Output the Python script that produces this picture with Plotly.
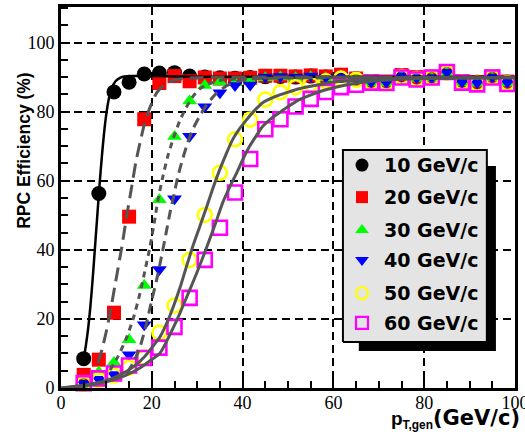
import plotly.graph_objects as go

# Generated transverse momentum bin centres (GeV/c)
pt_gen = [5, 8.33, 11.67, 15, 18.33, 21.67, 25, 28.33, 31.67, 35, 38.33, 41.67,
          45, 48.33, 51.67, 55, 58.33, 61.67, 65, 68.33, 71.67, 75, 78.33,
          81.67, 85, 88.33, 91.67, 95, 98.33]

# RPC trigger efficiency (%) for each pT threshold
eff_10 = [8.5, 56.3, 85.7, 88.5, 90.9, 91.2, 91.3, 90.3, 90.0, 89.8, 89.7, 89.9,
          90.1, 90.2, 90.0, 90.3, 90.0, 90.5, 89.5, 88.7, 88.6, 90.5, 89.9,
          90.0, 91.5, 88.7, 88.5, 90.1, 88.6]
eff_20 = [3.8, 8.2, 21.8, 49.6, 77.8, 88.3, 90.3, 88.8, 89.9, 89.6, 89.6, 89.8,
          90.4, 90.4, 90.2, 90.5, 90.2, 90.7, 89.6, 88.8, 88.7, 90.6, 90.0,
          90.1, 91.6, 88.8, 88.6, 90.2, 88.7]
eff_30 = [1.0, 4.6, 7.4, 14.0, 29.7, 54.5, 72.8, 83.1, 87.6, 88.6, 88.4, 88.9,
          89.8, 90.0, 89.8, 90.1, 89.8, 90.3, 89.2, 88.4, 88.3, 90.2, 89.6,
          89.7, 91.2, 88.4, 88.2, 89.8, 88.3]
eff_40 = [1.4, 2.5, 3.9, 9.6, 18.3, 34.3, 54.8, 72.9, 81.4, 85.5, 87.6, 87.7,
          90.0, 90.2, 90.0, 90.3, 90.0, 90.5, 89.4, 88.6, 88.5, 90.4, 89.8,
          89.9, 91.4, 88.6, 88.4, 90.0, 88.5]
eff_50 = [1.2, 2.2, 3.6, 5.9, 8.8, 16.0, 23.9, 37.1, 50.1, 62.3, 72.0, 77.7,
          83.5, 85.6, 87.1, 87.9, 88.8, 89.6, 89.2, 88.5, 88.4, 90.1, 89.5,
          89.8, 91.3, 88.5, 88.1, 89.9, 88.3]
eff_60 = [1.4, 2.8, 4.2, 6.5, 8.7, 11.7, 17.7, 26.1, 37.1, 46.4, 56.6, 66.3,
          74.9, 77.8, 81.5, 83.7, 85.7, 87.1, 87.8, 88.4, 88.3, 89.9, 89.3,
          89.9, 91.5, 88.4, 87.9, 89.9, 88.0]

# Turn-on fit curves (pT, efficiency)
fit_pt_10 = [5, 5.5, 6, 6.5, 7, 7.5, 8, 8.5, 9, 9.5, 10, 10.5, 11, 12, 13, 14, 16, 20, 30, 100]
fit_eff_10 = [8.4, 12.5, 17.5, 24, 32, 41, 50, 59, 67, 74, 79.5, 83.5, 86.3, 88.8, 89.8, 90.2, 90.3, 90.3, 90.1, 90.0]

fit_pt_20 = [8.1, 9, 10, 10.8, 12, 13.4, 14.5, 15.6, 16.5, 17.4, 18.3, 19.1, 20, 21.1, 22.5, 24, 26, 29, 35, 100]
fit_eff_20 = [7.2, 11, 16.5, 21.7, 30.5, 40.9, 50, 58.5, 65.5, 71, 76, 79.5, 82.5, 85.5, 87.5, 88.7, 89.4, 89.8, 90.0, 89.9]

fit_pt_30 = [10.8, 12.5, 14.5, 16, 17.4, 18.5, 19.6, 20.5, 21.3, 22.4, 23.5, 24.8, 26.2, 27.5, 29, 30.5, 32.1, 35, 40, 100]
fit_eff_30 = [5.2, 9, 14.8, 20.5, 27.5, 34, 40.9, 47.5, 54, 61, 67, 72.5, 77.5, 81, 84.3, 86.5, 87.8, 89.0, 89.6, 89.8]

fit_pt_40 = [14.5, 16, 17.4, 18.7, 20, 21.1, 22.2, 23.1, 24, 24.9, 25.7, 26.8, 27.9, 29, 30.5, 32, 34, 36.5, 39, 42, 50, 100]
fit_eff_40 = [4.3, 7.5, 11.9, 18, 25.5, 31.5, 38.5, 44.5, 50.7, 56, 61, 66.3, 71, 74.8, 78.6, 81.8, 85, 87.5, 88.8, 89.5, 89.8, 89.8]

fit_pt_50 = [0, 5, 10, 13, 16, 18.5, 20.5, 21.8, 24, 26.2, 27.6, 29, 30.5, 32.1, 33.5, 34.9, 36.3,
             37.8, 39.3, 40.9, 42.6, 44.4, 47, 49.7, 52, 54.7, 58, 61, 65.7, 72, 80, 100]
fit_eff_50 = [0, 0.8, 2.2, 3.8, 6.2, 9.2, 12.5, 14.8, 21, 29, 35, 40.9, 46.5, 52.5, 58, 63, 67.5,
              71.9, 75, 77.7, 80.3, 82.6, 84.3, 85.5, 86.5, 87.3, 88.1, 88.7, 89.2, 89.6, 89.8, 89.9]

fit_pt_60 = [0, 5, 10, 14, 17, 19.5, 21.8, 24, 26.2, 28, 29.9, 31.3, 32.7, 34.2, 35.6, 37.2, 38.7,
             40.1, 41.5, 43, 44.4, 46.2, 48.1, 50.3, 52.5, 55.5, 58.5, 62, 65.7, 72, 80, 100]
fit_eff_60 = [0, 0.6, 1.8, 3.5, 5.5, 7.8, 10.1, 15.5, 21.7, 27.3, 33.3, 38, 42.9, 48.3, 53.6, 58.3, 62.3,
              66.3, 69.9, 73, 75.7, 77.9, 79.7, 81.7, 83.5, 85.1, 86.4, 87.5, 88.4, 89.2, 89.6, 89.8]

labels = ["10 GeV/c", "20 GeV/c", "30 GeV/c", "40 GeV/c", "50 GeV/c", "60 GeV/c"]

series = [
    (eff_10, dict(symbol="circle", size=15, color="black")),
    (eff_20, dict(symbol="square", size=14, color="#ff0000")),
    (eff_30, dict(symbol="triangle-up", size=13, color="#00ff00")),
    (eff_40, dict(symbol="triangle-down", size=13, color="#0000ff")),
    (eff_50, dict(symbol="circle-open", size=14, color="#ffff00", line=dict(width=2.6, color="#ffff00"))),
    (eff_60, dict(symbol="square-open", size=14, color="#ff00ff", line=dict(width=2.6, color="#ff00ff"))),
]

fits = [
    (fit_pt_10, fit_eff_10, dict(color="black", width=2.5, dash="solid")),
    (fit_pt_20, fit_eff_20, dict(color="#555555", width=3, dash="14px,7px")),
    (fit_pt_30, fit_eff_30, dict(color="#555555", width=3, dash="6px,5px")),
    (fit_pt_40, fit_eff_40, dict(color="#555555", width=3, dash="10px,6px")),
    (fit_pt_50, fit_eff_50, dict(color="#555555", width=3, dash="solid")),
    (fit_pt_60, fit_eff_60, dict(color="#555555", width=3, dash="solid")),
]

fig = go.Figure()

for vals, mk in series:
    fig.add_trace(go.Scatter(x=pt_gen, y=vals, mode="markers", marker=mk,
                             showlegend=False, cliponaxis=False))

for fx, fy, ln in fits:
    fig.add_trace(go.Scatter(x=fx, y=fy, mode="lines", showlegend=False,
                             line=dict(shape="spline", smoothing=0.7, **ln)))

# Legend drawn by hand on an overlay frame spanning the plot area (0..1):
# drop shadow, grey box, symbols and labels
shadow_x = [0.656, 0.958, 0.958, 0.656, 0.656]
shadow_y = [0.097, 0.097, 0.583, 0.583, 0.097]
box_x = [0.621, 0.938, 0.938, 0.621, 0.621]
box_y = [0.121, 0.121, 0.625, 0.625, 0.121]

fig.add_trace(go.Scatter(x=shadow_x, y=shadow_y, mode="lines", fill="toself",
                         fillcolor="black", line=dict(width=0, color="black"),
                         xaxis="x2", yaxis="y2", showlegend=False, hoverinfo="skip"))
fig.add_trace(go.Scatter(x=box_x, y=box_y, mode="lines", fill="toself",
                         fillcolor="#e4e4e4", line=dict(width=2, color="black"),
                         xaxis="x2", yaxis="y2", showlegend=False, hoverinfo="skip"))

leg_marker_x = 0.663
leg_text_x = 0.707
leg_rows = [0.585, 0.501, 0.415, 0.336, 0.249, 0.171]
leg_markers = [
    dict(symbol="circle", size=13, color="black"),
    dict(symbol="square", size=12, color="#ff0000"),
    dict(symbol="triangle-up", size=12, color="#00ff00"),
    dict(symbol="triangle-down", size=12, color="#0000ff"),
    dict(symbol="circle-open", size=12, color="#ffff00", line=dict(width=2.2, color="#ffff00")),
    dict(symbol="square-open", size=12, color="#ff00ff", line=dict(width=2.2, color="#ff00ff")),
]
for yy, mk in zip(leg_rows, leg_markers):
    fig.add_trace(go.Scatter(x=[leg_marker_x], y=[yy], mode="markers", marker=mk,
                             xaxis="x2", yaxis="y2", showlegend=False, cliponaxis=False))

for yy, txt in zip(leg_rows, labels):
    fig.add_annotation(x=leg_text_x, y=yy, xref="paper", yref="paper", text=f"<b>{txt}</b>",
                       showarrow=False, xanchor="left", yanchor="middle",
                       font=dict(family="DejaVu Sans", size=19, color="black"))

# Axis titles
fig.add_annotation(x=-0.0815, y=0.625, xref="paper", yref="paper",
                   text="<b>RPC Efficiency (%)</b>", textangle=-90, showarrow=False,
                   xanchor="center", yanchor="middle",
                   font=dict(family="Liberation Sans", size=17.5, color="black"))
fig.add_annotation(x=1.0154, y=-0.081, xref="paper", yref="paper",
                   text="<b><span style='font-size:19px'>p</span><sub>T,gen</sub>"
                        "<span style='font-family:DejaVu Sans;font-size:21px'>(GeV/c)</span></b>",
                   showarrow=False, xanchor="right", yanchor="middle",
                   font=dict(family="Liberation Sans", size=17, color="black"))

tickfont = dict(family="Liberation Serif", size=18, color="black")
grid_dash = "8px,5px"

fig.update_layout(
    width=525, height=432,
    margin=dict(l=61, r=10, t=7, b=44, autoexpand=False),
    paper_bgcolor="white", plot_bgcolor="white",
    xaxis=dict(range=[0, 100], tickvals=[0, 20, 40, 60, 80, 100],
               showline=True, linewidth=3, linecolor="black", mirror=True,
               ticks="inside", ticklen=9, tickwidth=2, tickcolor="black",
               ticklabelstandoff=-4, ticklabeloverflow="allow", automargin=False,
               showgrid=True, gridcolor="black", gridwidth=2, griddash=grid_dash,
               zeroline=False, tickfont=tickfont,
               minor=dict(tick0=0, dtick=5, ticks="inside", ticklen=7,
                          tickwidth=2, tickcolor="black", showgrid=False)),
    yaxis=dict(range=[0, 110.3], tickvals=[0, 20, 40, 60, 80, 100],
               showline=True, linewidth=3, linecolor="black", mirror=True,
               ticks="inside", ticklen=9, tickwidth=2, tickcolor="black",
               automargin=False,
               showgrid=True, gridcolor="black", gridwidth=2, griddash=grid_dash,
               zeroline=False, tickfont=tickfont,
               minor=dict(tick0=0, dtick=5, ticks="inside", ticklen=7,
                          tickwidth=2, tickcolor="black", showgrid=False)),
    xaxis2=dict(range=[0, 1], overlaying="x", visible=False, fixedrange=True),
    yaxis2=dict(range=[0, 1], overlaying="y", visible=False, fixedrange=True),
)

fig.write_html("out.html")
